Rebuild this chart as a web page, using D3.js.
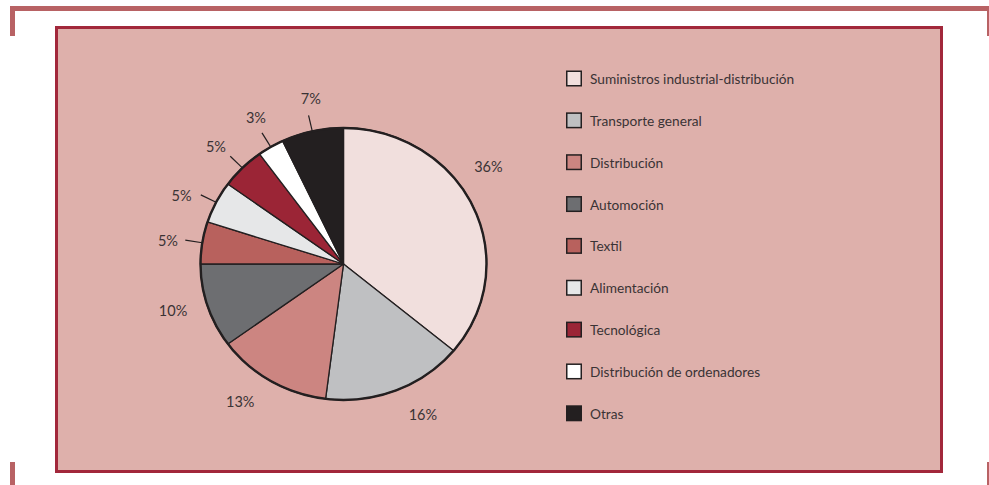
<!DOCTYPE html>
<html lang="es">
<head>
<meta charset="utf-8">
<script src="https://cdn.jsdelivr.net/npm/d3@7"></script>
<style>
  html, body { margin: 0; padding: 0; background: #ffffff; }
  svg { display: block; }
  text { font-family: "Lato", "Open Sans", sans-serif; font-weight: 400; fill: #3a3335; }
</style>
</head>
<body>
<svg id="chart" width="989" height="485"></svg>
<script>
// Sectors by share of total (%)
const categories = [
  "Suministros industrial-distribución",
  "Transporte general",
  "Distribución",
  "Automoción",
  "Textil",
  "Alimentación",
  "Tecnológica",
  "Distribución de ordenadores",
  "Otras"
];
const values = [36, 16, 13, 10, 5, 5, 5, 3, 7];
const valueLabels = ["36%", "16%", "13%", "10%", "5%", "5%", "5%", "3%", "7%"];

const colors = [
  "#f1dfdd", "#bfc0c2", "#cc8581", "#6d6e71", "#b8615d",
  "#e6e7e8", "#9b2536", "#ffffff", "#231f20"
];

// Layout
const W = 989, H = 485;
const cx = 343.5, cy = 264;
const rx = 143, ry = 136;          // pie is drawn slightly wider than tall
const labelR = 1.24;               // label distance (in pie radii)
const leaderIn = 1.0, leaderOut = 1.12;
const leaderMax = 7;               // slices up to this share get a leader line
const labelAngleShift = [-10, -5, 5, 2, -1, -3, -1, 1, 2]; // degrees, per label

const svg = d3.select("#chart");

// Page frame rules
const frameColor = "#b86264";
svg.append("rect").attr("x", 10).attr("y", 6).attr("width", 979).attr("height", 5).attr("fill", frameColor);
svg.append("rect").attr("x", 10).attr("y", 6).attr("width", 5).attr("height", 30).attr("fill", frameColor);
svg.append("rect").attr("x", 987).attr("y", 6).attr("width", 2).attr("height", 30).attr("fill", frameColor);
svg.append("rect").attr("x", 10).attr("y", 462).attr("width", 5).attr("height", 23).attr("fill", frameColor);
svg.append("rect").attr("x", 987).attr("y", 462).attr("width", 2).attr("height", 23).attr("fill", frameColor);

// Chart panel
svg.append("rect")
  .attr("x", 56.5).attr("y", 27.5).attr("width", 885).attr("height", 444)
  .attr("fill", "#deb0ab").attr("stroke", "#a2283b").attr("stroke-width", 3);

// Pie
const pie = d3.pie().value(d => d).sort(null);
const arcs = pie(values);
const arc = d3.arc().innerRadius(0).outerRadius(rx);

const pieG = svg.append("g")
  .attr("transform", `translate(${cx},${cy}) scale(1,${ry / rx})`);

pieG.selectAll("path.slice")
  .data(arcs)
  .enter().append("path")
  .attr("class", "slice")
  .attr("d", arc)
  .attr("fill", (d, i) => colors[i])
  .attr("stroke", "#231f20")
  .attr("stroke-width", 1.3)
  .attr("stroke-linejoin", "round")
  .attr("vector-effect", "non-scaling-stroke");

pieG.append("circle")
  .attr("r", rx)
  .attr("fill", "none")
  .attr("stroke", "#231f20")
  .attr("stroke-width", 2.4)
  .attr("vector-effect", "non-scaling-stroke");

// Point on the (elliptical) pie at angle a (radians, clockwise from top), radius factor k
function pt(a, k) {
  return [cx + rx * k * Math.sin(a), cy - ry * k * Math.cos(a)];
}
const midAngle = d => (d.startAngle + d.endAngle) / 2;

// Leader lines for the small slices
svg.append("g").selectAll("line")
  .data(arcs.filter(d => d.data <= leaderMax))
  .enter().append("line")
  .attr("x1", d => pt(midAngle(d), leaderIn)[0])
  .attr("y1", d => pt(midAngle(d), leaderIn)[1])
  .attr("x2", d => pt(midAngle(d), leaderOut)[0])
  .attr("y2", d => pt(midAngle(d), leaderOut)[1])
  .attr("stroke", "#231f20")
  .attr("stroke-width", 1.2);

// Percentage labels
svg.append("g").selectAll("text")
  .data(arcs)
  .enter().append("text")
  .attr("x", (d, i) => pt(midAngle(d) + labelAngleShift[i] * Math.PI / 180, labelR)[0])
  .attr("y", (d, i) => pt(midAngle(d) + labelAngleShift[i] * Math.PI / 180, labelR)[1])
  .attr("text-anchor", "middle")
  .attr("dominant-baseline", "central")
  .attr("font-size", 14.5)
  .text((d, i) => valueLabels[i]);

// Legend
const legendY = d3.scalePoint().domain(categories).range([78.5, 413.3]);
const legend = svg.append("g");
const items = legend.selectAll("g")
  .data(categories)
  .enter().append("g")
  .attr("transform", d => `translate(566,${legendY(d)})`);

items.append("rect")
  .attr("x", 0.75).attr("y", -7.25)
  .attr("width", 14.5).attr("height", 14.5)
  .attr("fill", (d, i) => colors[i])
  .attr("stroke", "#231f20")
  .attr("stroke-width", 1.5);

items.append("text")
  .attr("x", 24)
  .attr("y", 0)
  .attr("dominant-baseline", "central")
  .attr("font-size", 13.7)
  .text(d => d);
</script>
</body>
</html>
